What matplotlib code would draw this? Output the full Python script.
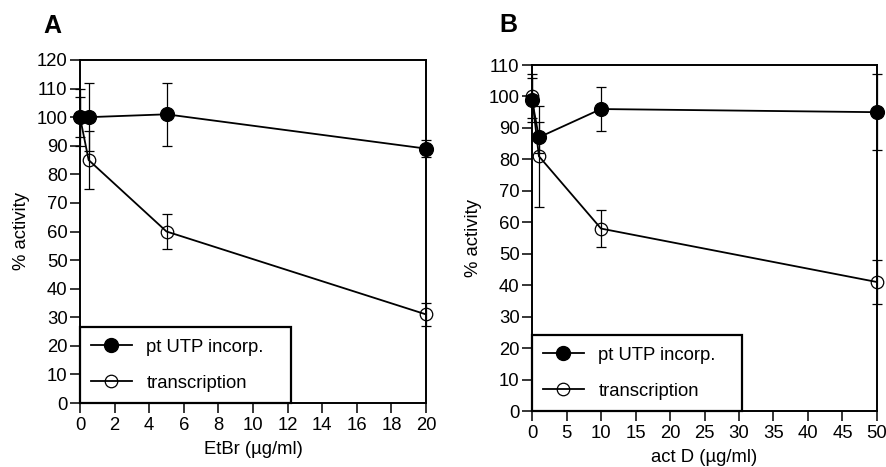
import matplotlib
matplotlib.use("Agg")
import matplotlib.pyplot as plt
from matplotlib.lines import Line2D

plt.rcParams['font.family'] = ['Liberation Sans', 'DejaVu Sans']

# ---- data ----
etbr_x = [0, 0.5, 5, 20]
etbr_utp = [100, 100, 101, 89]
etbr_utp_err = [10, 12, 11, 3]
etbr_tx = [100, 85, 60, 31]
etbr_tx_err = [7, 10, 6, 4]
etbr_xticks = [0, 2, 4, 6, 8, 10, 12, 14, 16, 18, 20]
etbr_yticks = [0, 10, 20, 30, 40, 50, 60, 70, 80, 90, 100, 110, 120]

actd_x = [0, 1, 10, 50]
actd_utp = [99, 87, 96, 95]
actd_utp_err = [7, 5, 7, 12]
actd_tx = [100, 81, 58, 41]
actd_tx_err = [7, 16, 6, 7]
actd_xticks = [0, 5, 10, 15, 20, 25, 30, 35, 40, 45, 50]
actd_yticks = [0, 10, 20, 30, 40, 50, 60, 70, 80, 90, 100, 110]

series_labels = ['pt UTP incorp.', 'transcription']

W, H = 886, 467
fig = plt.figure(figsize=(W / 100, H / 100), dpi=100)

FS = 13.3


def panel(rect, x, utp, utp_err, tx, tx_err, xticks, yticks, xlabel, letter, letter_pos):
    ax = fig.add_axes(rect)
    ax.set_xlim(xticks[0], xticks[-1])
    ax.set_ylim(yticks[0], yticks[-1])
    ax.errorbar(x, tx, yerr=tx_err, fmt='none', ecolor='black', elinewidth=0.9,
                capsize=3.5, capthick=0.9, clip_on=False, zorder=2)
    ax.errorbar(x, utp, yerr=utp_err, fmt='none', ecolor='black', elinewidth=0.9,
                capsize=3.5, capthick=0.9, clip_on=False, zorder=2)
    ax.plot(x, tx, '-o', color='black', lw=1.3, ms=9, mfc='none', mew=0.9,
            clip_on=False, zorder=3)
    ax.plot(x, utp, '-o', color='black', lw=1.3, ms=10, mfc='black', mew=0.9,
            clip_on=False, zorder=4)
    ax.set_xticks(xticks)
    ax.set_yticks(yticks)
    ax.tick_params(direction='out', length=7, width=1.1, labelsize=FS,
                   colors='black', top=False, right=False)
    ax.tick_params(axis='x', pad=3)
    ax.tick_params(axis='y', pad=2)
    for s in ax.spines.values():
        s.set_linewidth(1.4)
        s.set_color('black')
    ax.set_xlabel(xlabel, fontsize=FS, labelpad=5)
    ax.set_ylabel('% activity', fontsize=FS, labelpad=5)
    handles = [
        Line2D([], [], color='black', lw=1.3, marker='o', ms=10, mfc='black'),
        Line2D([], [], color='black', lw=1.3, marker='o', ms=9, mfc='none', mew=0.9),
    ]
    leg = ax.legend(handles, series_labels, loc='lower left',
                    bbox_to_anchor=(0, 0, 0.61, 0.2), mode='expand',
                    borderaxespad=0, fancybox=False, framealpha=1,
                    edgecolor='black', fontsize=FS, handlelength=2.2,
                    handletextpad=0.8, labelspacing=1.05, borderpad=0.6)
    leg.get_frame().set_linewidth(1.6)
    leg.set_zorder(5)
    fig.text(letter_pos[0] / W, 1 - letter_pos[1] / H, letter, fontsize=18,
             fontweight='bold', ha='center', va='center')
    return ax


panel([80 / W, 1 - 403 / H, 346 / W, 343 / H], etbr_x, etbr_utp, etbr_utp_err,
      etbr_tx, etbr_tx_err, etbr_xticks, etbr_yticks, 'EtBr (µg/ml)', 'A', (52, 26))
panel([532 / W, 1 - 411 / H, 345 / W, 346 / H], actd_x, actd_utp, actd_utp_err,
      actd_tx, actd_tx_err, actd_xticks, actd_yticks, 'act D (µg/ml)', 'B', (508, 25))

fig.savefig('out.png', dpi=100)
